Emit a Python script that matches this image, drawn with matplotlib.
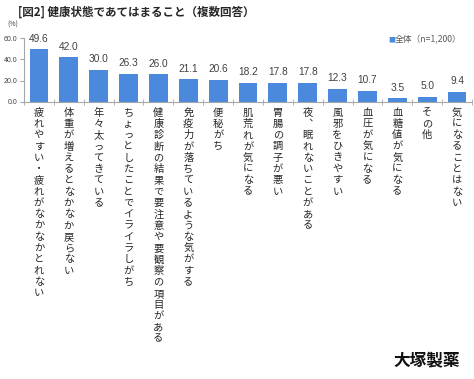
import matplotlib
matplotlib.use("Agg")
import matplotlib.pyplot as plt
import numpy as np

plt.rcParams['font.family'] = ['Noto Sans CJK JP', 'DejaVu Sans']

# data
categories = [
    "疲れやすい・疲れがなかなかとれない",
    "体重が増えるとなかなか戻らない",
    "年々太ってきている",
    "ちょっとしたことでイライラしがち",
    "健康診断の結果で要注意や要観察の項目がある",
    "免疫力が落ちているような気がする",
    "便秘がち",
    "肌荒れが気になる",
    "胃腸の調子が悪い",
    "夜︑眠れないことがある",
    "風邪をひきやすい",
    "血圧が気になる",
    "血糖値が気になる",
    "その他",
    "気になることはない",
]
values = [49.6, 42.0, 30.0, 26.3, 26.0, 21.1, 20.6, 18.2, 17.8, 17.8, 12.3, 10.7, 3.5, 5.0, 9.4]
y_ticks = [0, 20, 40, 60]

bar_color = '#4a89dc'
axis_color = '#a6a6a6'
text_color = '#404040'

fig = plt.figure(figsize=(4.74, 3.79), dpi=100)
ax = fig.add_axes([24 / 474, 1 - 102 / 379, 448 / 474, 64 / 379])

x = np.arange(len(categories))
ax.bar(x, values, width=0.63, color=bar_color, zorder=2)
ax.set_xlim(-0.5, len(categories) - 0.5)
ax.set_ylim(0, 60)

# value labels above the bars
for xi, v in zip(x, values):
    ax.annotate(f'{v:.1f}', (xi, v), xytext=(0, 4), textcoords='offset points',
                ha='center', va='bottom', fontsize=7.3, color=text_color,
                family=['Liberation Sans', 'DejaVu Sans'])

# vertical (tategaki) category labels
for xi, name in zip(x, categories):
    ax.annotate('\n'.join(name), (xi, 0), xycoords=('data', 'axes fraction'),
                xytext=(0, -4), textcoords='offset points',
                ha='center', va='top', fontsize=7.4, color='#262626',
                linespacing=1.16)

# axes styling
for side in ['top', 'right']:
    ax.spines[side].set_visible(False)
ax.spines['left'].set_color(axis_color)
ax.spines['bottom'].set_color(axis_color)
ax.set_yticks(y_ticks)
ax.set_yticklabels([f'{t:.1f}' for t in y_ticks], fontsize=5,
                   color=text_color, family=['Liberation Sans', 'DejaVu Sans'])
ax.tick_params(axis='y', length=3, color=axis_color, pad=2)
ax.set_xticks([])
ax.set_xticks(np.arange(-0.5, len(categories)), minor=True)
ax.tick_params(axis='x', which='minor', direction='inout', length=4, color=axis_color)

# titles, units, legend, logo
fig.text(18 / 474, 1 - 12 / 379, '[図2] 健康状態であてはまること（複数回答）',
         fontsize=8.3, fontweight='bold', color='#262626', va='center', ha='left')
fig.text(7 / 474, 1 - 25 / 379, '(%)', fontsize=5, color=text_color,
         va='center', ha='left')
fig.text(388 / 474, 1 - 40 / 379, '■', fontsize=5, color=bar_color,
         va='center', ha='left')
fig.text(395 / 474, 1 - 40 / 379, '全体（n=1,200）', fontsize=6.3,
         color='#595959', va='center', ha='left')
fig.text(460 / 474, 1 - 361 / 379, '大塚製薬', fontsize=12, fontweight='bold',
         color='#111111', va='center', ha='right')

fig.savefig('out.png', dpi=100, facecolor='white')
